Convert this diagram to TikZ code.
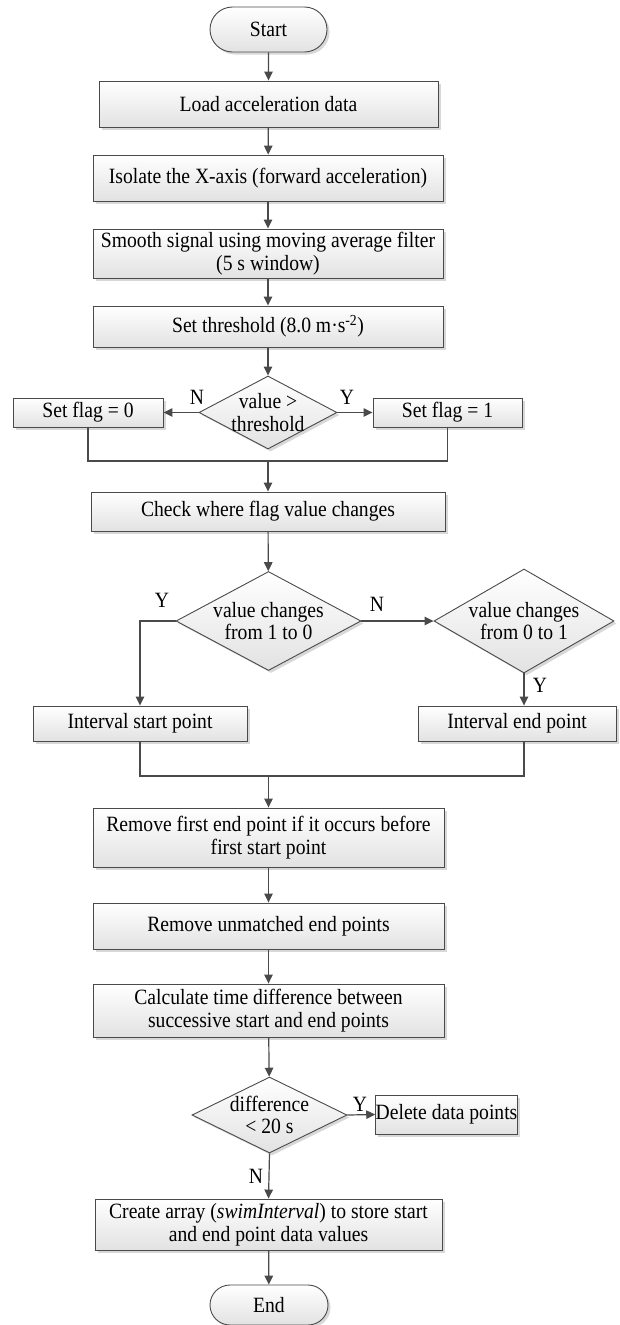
\documentclass[tikz,border=0pt]{standalone}
\usepackage{fontspec}
\setmainfont[FakeStretch=0.9]{Liberation Serif}
\usetikzlibrary{shapes.geometric,shapes.misc,shadows,arrows.meta}
\definecolor{linec}{HTML}{4A4A4A}
\definecolor{boxgray}{HTML}{E2E2E2}
\tikzset{
  flowtxt/.style={font=\fontsize{21.8pt}{22.5pt}\selectfont, text=black},
  shaded/.style={draw=linec, line width=0.9pt, top color=white, bottom color=boxgray,
    drop shadow={shadow xshift=2.5pt, shadow yshift=-2.5pt, fill=black!30, opacity=0.5}},
  stepbox/.style={shaded, rectangle, inner sep=0pt, align=center, flowtxt},
  termbox/.style={shaded, rounded rectangle, inner sep=0pt, flowtxt},
  decbox/.style={shaded, diamond, inner sep=0pt},
  dectxt/.style={flowtxt, align=center, inner sep=0pt},
  yn/.style={flowtxt, inner sep=0pt},
  arr/.style={draw=linec, line width=1.2pt, -{Triangle[length=9pt,width=8.5pt]}},
  joinline/.style={draw=linec, line width=1.2pt},
}
\begin{document}
\begin{tikzpicture}[x=1pt,y=-1pt]
\fill[white] (0,0) rectangle (619,1325);
\useasboundingbox (0,0) rectangle (619,1325);

% main column
\node[termbox, minimum width=117pt, minimum height=45pt] (start) at (268.5,29.5) {Start};
\node[stepbox, minimum width=339pt, minimum height=46pt] (load) at (268.5,104) {Load acceleration data};
\node[stepbox, minimum width=350pt, minimum height=46pt] (iso) at (268,178) {Isolate the X-axis (forward acceleration)};
\node[stepbox, minimum width=350pt, minimum height=49pt] (smooth) at (268,253.5) {Smooth signal using moving average filter\\(5 s window)};
\node[stepbox, minimum width=350pt, minimum height=41pt] (thr) at (268,326.5) {Set threshold (8.0 m·s\textsuperscript{-2})};

% threshold test
\node[decbox, minimum width=138pt, minimum height=73pt] (d1) at (268,412.5) {};
\node[dectxt] (d1t) at (268,412.5) {value >\\threshold};
\node[stepbox, minimum width=150pt, minimum height=29pt] (f0) at (88,412.5) {Set flag = 0};
\node[stepbox, minimum width=149pt, minimum height=29pt] (f1) at (447.5,412.5) {Set flag = 1};
\coordinate (m1) at (268,461);

\node[stepbox, minimum width=354pt, minimum height=39pt] (check) at (268,511.5) {Check where flag value changes};

% change tests
\node[decbox, minimum width=185pt, minimum height=99pt] (d2) at (268.5,621) {};
\node[dectxt] (d2t) at (268.5,621) {value changes\\from 1 to 0};
\node[decbox, minimum width=180pt, minimum height=104pt] (d3) at (524,621) {};
\node[dectxt] (d3t) at (524,621) {value changes\\from 0 to 1};
\node[stepbox, minimum width=214pt, minimum height=35pt] (istart) at (140,723.5) {Interval start point};
\node[stepbox, minimum width=198pt, minimum height=35pt] (iend) at (517,723.5) {Interval end point};
\coordinate (m2) at (268.5,776);

\node[stepbox, minimum width=351pt, minimum height=59pt] (rem1) at (268.5,837.5) {Remove first end point if it occurs before\\first start point};
\node[stepbox, minimum width=351pt, minimum height=46pt] (rem2) at (268.5,926) {Remove unmatched end points};
\node[stepbox, minimum width=351pt, minimum height=53pt] (calc) at (268.5,1010.5) {Calculate time difference between\\successive start and end points};

% duration test
\node[decbox, minimum width=155pt, minimum height=76pt] (d4) at (269.5,1115) {};
\node[dectxt] (d4t) at (269.5,1115) {difference\\< 20 s};
\node[stepbox, minimum width=137pt, minimum height=39pt] (del) at (446.5,1114.5) {Delete data points};
\node[stepbox, minimum width=347pt, minimum height=51pt] (create) at (268.5,1224.5) {Create array (\textit{swimInterval}) to store start\\and end point data values};
\node[termbox, minimum width=118pt, minimum height=40pt] (stop) at (269,1305) {End};

% connectors
\draw[arr] (start) -- (load);
\draw[arr] (load) -- (iso);
\draw[arr] (iso) -- (smooth);
\draw[arr] (smooth) -- (thr);
\draw[arr] (thr) -- (d1);
\draw[arr] (d1.west) -- (f0.east);
\draw[arr] (d1.east) -- (f1.west);
\draw[joinline] (f0.south) |- (m1) -| (f1.south);
\draw[arr] (m1) -- (check.north);
\draw[arr] (check) -- (d2);
\draw[arr] (d2.west) -| (istart.north);
\draw[arr] (d2.east) -- (d3.west);
\draw[arr] (d3.south) -- (d3.south |- iend.north);
\draw[joinline] (istart.south) |- (m2) -| (d3.south |- iend.south);
\draw[arr] (m2) -- (rem1.north);
\draw[arr] (rem1) -- (rem2);
\draw[arr] (rem2) -- (calc);
\draw[arr] (calc) -- (d4);
\draw[arr] (d4.east) -- (del.west);
\draw[arr] (d4.south) -- (create.north);
\draw[arr] (create) -- (stop);

% branch labels
\node[yn] (n1) at (197,397) {N};
\node[yn] (y1) at (347,397) {Y};
\node[yn] (y2) at (162,600) {Y};
\node[yn] (n2) at (377,604) {N};
\node[yn] (y3) at (540,685) {Y};
\node[yn] (y4) at (360,1104) {Y};
\node[yn] (n3) at (256,1176) {N};
\end{tikzpicture}
\end{document}
